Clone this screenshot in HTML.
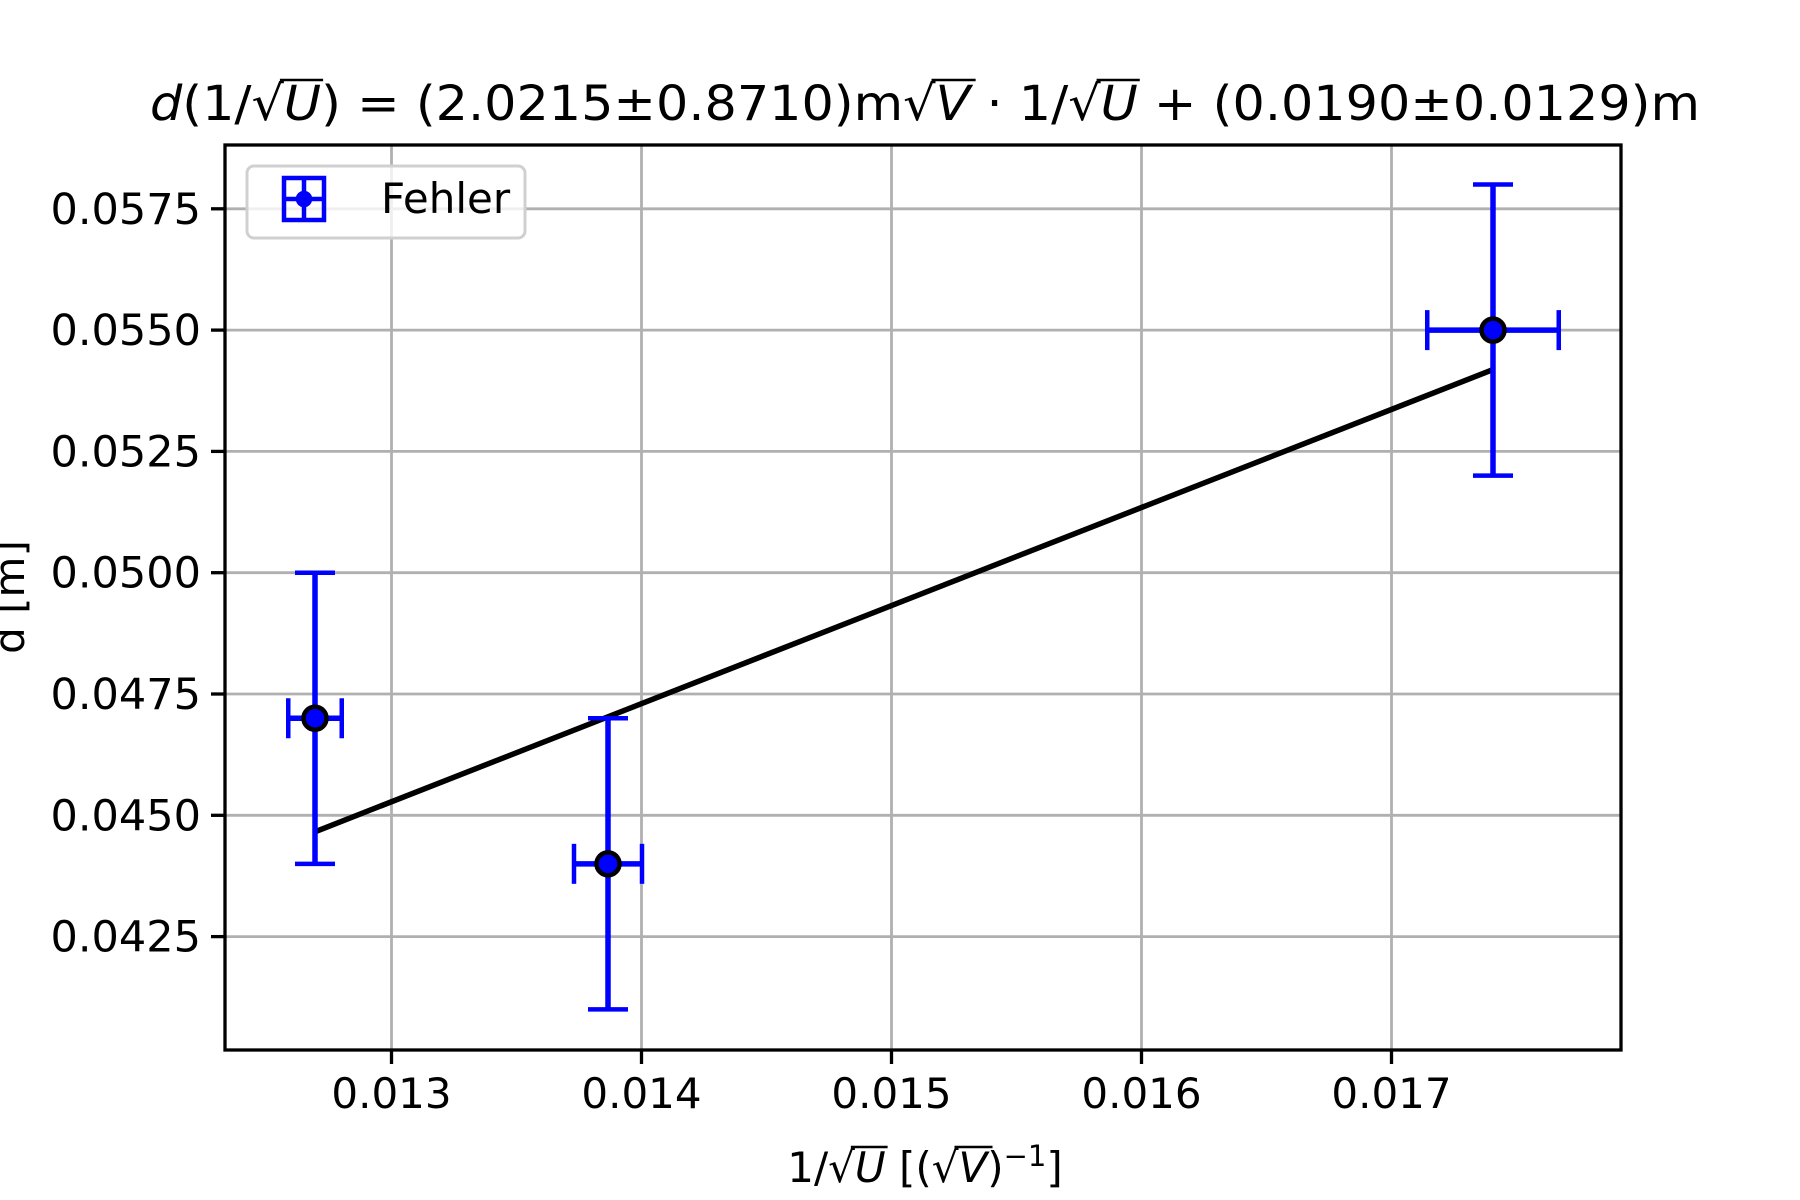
<!DOCTYPE html>
<html><head><meta charset="utf-8"><style>
html,body{margin:0;padding:0;background:#fff;}
svg{display:block;font-family:"DejaVu Sans","Liberation Sans",sans-serif;}
</style></head><body>
<svg id="chart" width="1800" height="1200" viewBox="0 0 1800 1200" xmlns="http://www.w3.org/2000/svg">
<rect x="0" y="0" width="1800" height="1200" fill="#fff"/>
<g id="grid"></g>
<g id="fit"></g>
<g id="points"></g>
<rect x="225" y="145" width="1396" height="905" fill="none" stroke="#000" stroke-width="3.3"/>
<g id="ticks"></g>
<text id="title" x="150" y="120" font-size="48" textLength="1550" lengthAdjust="spacingAndGlyphs"><tspan font-style="italic">d</tspan>(1/√<tspan id="t1" font-style="italic">U</tspan>) = (2.0215±0.8710)m√<tspan id="t2" font-style="italic">V</tspan> · 1/√<tspan id="t3" font-style="italic">U</tspan> + (0.0190±0.0129)m</text>
<text id="xlabel" x="925" y="1182" font-size="42" text-anchor="middle">1/√<tspan id="x1" font-style="italic">U</tspan> [(√<tspan id="x2" font-style="italic">V</tspan>)<tspan font-size="29" dy="-16">−1</tspan><tspan dy="16">]</tspan></text>
<text transform="translate(24,597) rotate(-90)" font-size="42" text-anchor="middle">d [m]</text>
<g>
<rect x="247" y="166" width="278" height="72" rx="7" fill="#fff" fill-opacity="0.8" stroke="#d0d0d0" stroke-width="3"/>
<g stroke="#0000ff" stroke-width="4.5" fill="none">
<rect x="284" y="178" width="40" height="42"/>
<line x1="284" y1="199" x2="324" y2="199"/><line x1="304" y1="178" x2="304" y2="220"/>
<circle cx="304" cy="199" r="6" fill="#0000ff"/>
</g>
<text x="381" y="213" font-size="42">Fehler</text>
</g>
</svg>
<script>
const xs = [0.012694, 0.013866, 0.017406];
const ys = [0.047, 0.044, 0.055];
const xerr = [0.000107, 0.000136, 0.000263];
const yerr = [0.003, 0.003, 0.003];
const slope = [2.0215];
const intercept = [0.0190];
const xTicks = [0.013, 0.014, 0.015, 0.016, 0.017];
const xTickLabels = ["0.013","0.014","0.015","0.016","0.017"];
const yTicks = [0.0425, 0.0450, 0.0475, 0.0500, 0.0525, 0.0550, 0.0575];
const yTickLabels = ["0.0425","0.0450","0.0475","0.0500","0.0525","0.0550","0.0575"];

const NS="http://www.w3.org/2000/svg";
const L=225,R=1621,T=145,B=1050;
const X0=0.012334,X1=0.017918,Y0=0.040163,Y1=0.058815;
function sx(v){return L+(v-X0)/(X1-X0)*(R-L);}
function sy(v){return B-(v-Y0)/(Y1-Y0)*(B-T);}
function mk(tag,attrs,parent){const e=document.createElementNS(NS,tag);for(const k in attrs)e.setAttribute(k,attrs[k]);parent.appendChild(e);return e;}
const grid=document.getElementById('grid'),ticks=document.getElementById('ticks');
xTicks.forEach((t,i)=>{const x=sx(t);
 const g=mk('line',{x1:x,y1:T,x2:x,y2:B,stroke:'#b0b0b0','stroke-width':2.8},grid);
 
 
 const tk=mk('line',{x1:x,y1:B,x2:x,y2:B+14,stroke:'#000','stroke-width':3.3},ticks);
 
 
 const tx=mk('text',{x:x,y:B+58,'font-size':42,'text-anchor':'middle'},ticks);
 tx.textContent=xTickLabels[i];
 
 
});
yTicks.forEach((t,i)=>{const y=sy(t);
 const g=mk('line',{x1:L,y1:y,x2:R,y2:y,stroke:'#b0b0b0','stroke-width':2.8},grid);
 
 
 const tk=mk('line',{x1:L-14,y1:y,x2:L,y2:y,stroke:'#000','stroke-width':3.3},ticks);
 
 
 const tx=mk('text',{x:L-24,y:y+15,'font-size':43,'text-anchor':'end'},ticks);
 tx.textContent=yTickLabels[i];
 
 
});
const fit=document.getElementById('fit');
const xa=xs[0],xb=xs[xs.length-1];
const fl=mk('line',{x1:sx(xa),y1:sy(slope[0]*xa+intercept[0]),x2:sx(xb),y2:sy(slope[0]*xb+intercept[0]),stroke:'#000','stroke-width':5.5},fit);


const pts=document.getElementById('points');
xs.forEach((v,i)=>{const cx=sx(v),cy=sy(ys[i]);
 const g=mk('g',{stroke:'#0000ff','stroke-width':5.5},pts);
 
 
 const yt=sy(ys[i]+yerr[i]),yb=sy(ys[i]-yerr[i]),xl=sx(v-xerr[i]),xr=sx(v+xerr[i]);
 mk('line',{x1:cx,y1:yt,x2:cx,y2:yb},g);
 mk('line',{x1:xl,y1:cy,x2:xr,y2:cy},g);
 mk('line',{x1:cx-20,y1:yt,x2:cx+20,y2:yt,'stroke-width':4.5},g);
 mk('line',{x1:cx-20,y1:yb,x2:cx+20,y2:yb,'stroke-width':4.5},g);
 mk('line',{x1:xl,y1:cy-20,x2:xl,y2:cy+20,'stroke-width':4.5},g);
 mk('line',{x1:xr,y1:cy-20,x2:xr,y2:cy+20,'stroke-width':4.5},g);
 const c=mk('circle',{cx:cx,cy:cy,r:11.5,fill:'#0000ff',stroke:'#000','stroke-width':4.5},pts);
 
 
});
const svg=document.getElementById('chart');
['t1','t2','t3','x1','x2'].forEach(id=>{
 const el=document.getElementById(id);
 try{const b=el.getBBox();
  const ol=mk('line',{x1:b.x-4,y1:b.y+4,x2:b.x+b.width+2,y2:b.y+4,stroke:'#000','stroke-width':2.5},svg);
  
  
 }catch(e){}
});
</script>
</body></html>
